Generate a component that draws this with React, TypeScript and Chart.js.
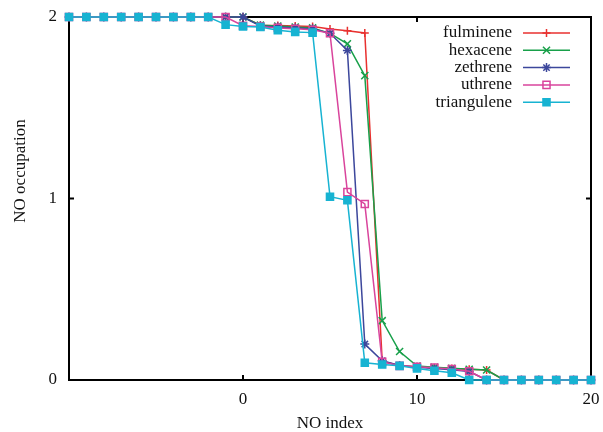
import { useEffect, useRef } from 'react';
import { Chart, registerables } from 'chart.js';
import { drawPoint } from 'chart.js/helpers';

Chart.register(...registerables);

const noIndex = [-10, -9, -8, -7, -6, -5, -4, -3, -2, -1, 0, 1, 2, 3, 4, 5, 6, 7, 8, 9, 10, 11, 12, 13, 14, 15, 16, 17, 18, 19, 20];

const fulminene = [2, 2, 2, 2, 2, 2, 2, 2, 2, 2, 2, 1.955, 1.953, 1.95, 1.947, 1.934, 1.924, 1.912, 0.104, 0.08, 0.073, 0.068, 0.064, 0.059, 0.055, 0, 0, 0, 0, 0, 0];
const hexacene = [2, 2, 2, 2, 2, 2, 2, 2, 2, 2, 2, 1.955, 1.95, 1.945, 1.94, 1.91, 1.852, 1.677, 0.327, 0.157, 0.077, 0.07, 0.065, 0.059, 0.055, 0, 0, 0, 0, 0, 0];
const zethrene = [2, 2, 2, 2, 2, 2, 2, 2, 2, 2, 2, 1.95, 1.945, 1.94, 1.935, 1.91, 1.816, 0.198, 0.106, 0.08, 0.07, 0.064, 0.057, 0.047, 0, 0, 0, 0, 0, 0, 0];
const uthrene = [2, 2, 2, 2, 2, 2, 2, 2, 2, 2, 1.952, 1.948, 1.94, 1.935, 1.93, 1.91, 1.035, 0.97, 0.1, 0.078, 0.073, 0.068, 0.06, 0.048, 0, 0, 0, 0, 0, 0, 0];
const triangulene = [2, 2, 2, 2, 2, 2, 2, 2, 2, 1.958, 1.948, 1.945, 1.927, 1.918, 1.914, 1.01, 0.99, 0.095, 0.085, 0.078, 0.064, 0.051, 0.04, 0, 0, 0, 0, 0, 0, 0, 0];

const seriesNames = ['fulminene', 'hexacene', 'zethrene', 'uthrene', 'triangulene'];
const seriesValues = [fulminene, hexacene, zethrene, uthrene, triangulene];
const seriesColors = ['#e8312f', '#18a04a', '#3c479c', '#d9449c', '#17b3d2'];
const seriesMarkers = ['cross', 'crossRot', 'star', 'rect', 'rect'];
const seriesFill = ['transparent', 'transparent', '#3c479c', 'transparent', '#17b3d2'];
const seriesRadius = [4, 5, 4.5, 5, 5];

const xTickLabels = ['0', '10', '20'];
const yTickLabels = ['0', '1', '2'];
const xTitle = 'NO index';
const yTitle = 'NO occupation';

const FONT = '"Liberation Serif", "DejaVu Serif", serif';

const framePlugin = {
  id: 'frame',
  beforeDatasetsDraw(chart: any) {
    const { ctx, chartArea: a, scales } = chart;
    ctx.save();
    ctx.strokeStyle = '#000';
    ctx.lineWidth = 2;
    ctx.strokeRect(a.left, a.top, a.right - a.left, a.bottom - a.top);
    const tl = 5;
    xTickLabels.forEach((t) => {
      const px = scales.x.getPixelForValue(Number(t));
      ctx.beginPath();
      ctx.moveTo(px, a.bottom);
      ctx.lineTo(px, a.bottom - tl);
      ctx.moveTo(px, a.top);
      ctx.lineTo(px, a.top + tl);
      ctx.stroke();
    });
    yTickLabels.forEach((t) => {
      const py = scales.y.getPixelForValue(Number(t));
      ctx.beginPath();
      ctx.moveTo(a.left, py);
      ctx.lineTo(a.left + tl, py);
      ctx.moveTo(a.right, py);
      ctx.lineTo(a.right - tl, py);
      ctx.stroke();
    });
    ctx.restore();
  },
  afterDraw(chart: any) {
    const { ctx, chartArea: a } = chart;
    ctx.save();
    ctx.fillStyle = '#111';
    ctx.font = `17px ${FONT}`;
    ctx.textAlign = 'center';
    ctx.textBaseline = 'middle';
    ctx.fillText(xTitle, (a.left + a.right) / 2, 424);
    ctx.translate(21, 171);
    ctx.rotate(-Math.PI / 2);
    ctx.fillText(yTitle, 0, 0);
    ctx.restore();

    // legend
    ctx.save();
    ctx.font = `17px ${FONT}`;
    ctx.textAlign = 'right';
    ctx.textBaseline = 'middle';
    chart.data.datasets.forEach((ds: any, i: number) => {
      const y = 33 + i * 17.3;
      ctx.fillStyle = '#111';
      ctx.fillText(ds.label, 512, y);
      ctx.strokeStyle = ds.borderColor;
      ctx.lineWidth = 1.5;
      ctx.beginPath();
      ctx.moveTo(523, y);
      ctx.lineTo(570, y);
      ctx.stroke();
      ctx.fillStyle = ds.pointBackgroundColor;
      ctx.lineWidth = 1.5;
      drawPoint(ctx, { pointStyle: ds.pointStyle, rotation: 0, radius: ds.pointRadius, borderWidth: 1.5 } as any, 546.5, y);
    });
    ctx.restore();
  },
};

export default function App() {
  const ref = useRef<HTMLCanvasElement>(null);
  useEffect(() => {
    document.body.style.margin = '0';
    const datasets = seriesNames.map((name, i) => ({
      label: name,
      data: noIndex.map((x, j) => ({ x, y: seriesValues[i][j] })),
      borderColor: seriesColors[i],
      backgroundColor: seriesFill[i],
      pointBackgroundColor: seriesFill[i],
      pointBorderColor: seriesColors[i],
      pointStyle: seriesMarkers[i],
      pointRadius: seriesRadius[i],
      pointBorderWidth: 1.5,
      borderWidth: 1.5,
      clip: false,
      order: 5 - i,
    }));
    const chart = new Chart(ref.current!, {
      type: 'line',
      data: { datasets },
      options: {
        animation: false,
        responsive: false,
        layout: { padding: { left: 0, right: 12, top: 17, bottom: 0 } },
        plugins: { legend: { display: false }, tooltip: { enabled: false } },
        scales: {
          x: {
            type: 'linear',
            min: -10,
            max: 20,
            grid: { display: false, drawTicks: false },
            border: { display: false },
            ticks: {
              stepSize: 10,
              padding: 9,
              color: '#111',
              font: { family: FONT, size: 17 },
              callback: (v: any) => (xTickLabels.includes(String(v)) ? String(v) : ''),
            },
            afterFit: (s: any) => {
              s.height = 52;
              s.paddingLeft = 0;
              s.paddingRight = 0;
            },
          },
          y: {
            min: 0,
            max: 2,
            grid: { display: false, drawTicks: false },
            border: { display: false },
            ticks: {
              stepSize: 1,
              padding: 12,
              color: '#111',
              font: { family: FONT, size: 17 },
              callback: (v: any) => (yTickLabels.includes(String(v)) ? String(v) : ''),
            },
            afterFit: (s: any) => {
              s.width = 69;
              s.paddingTop = 0;
              s.paddingBottom = 0;
            },
          },
        },
      },
      plugins: [framePlugin],
    });
    return () => chart.destroy();
  }, []);
  return (
    <div style={{ position: 'absolute', left: 0, top: 0, width: 603, height: 432 }}>
      <canvas ref={ref} width={603} height={432} />
    </div>
  );
}
